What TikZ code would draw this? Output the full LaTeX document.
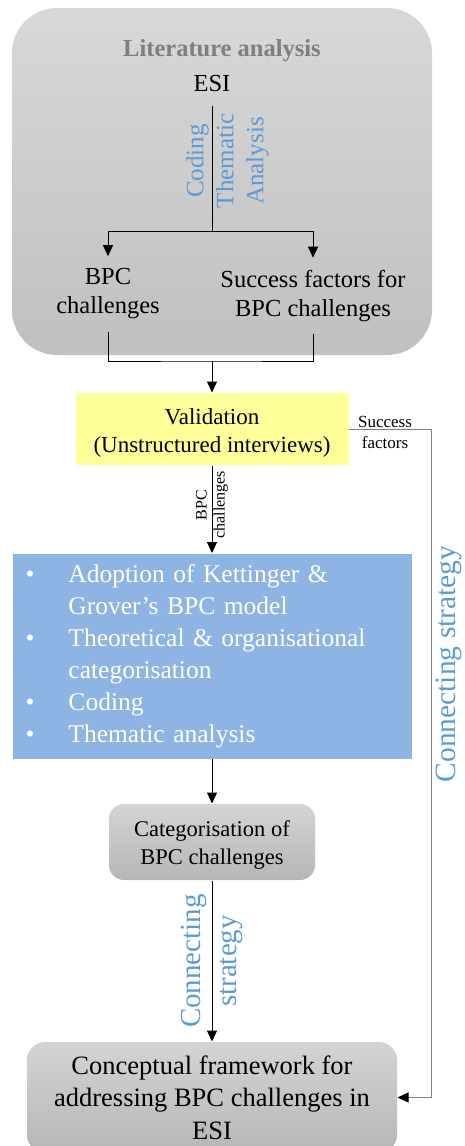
\documentclass[tikz,border=0pt]{standalone}
\usepackage{fontspec}
\setmainfont{Liberation Serif}
\usetikzlibrary{arrows.meta,calc}
\definecolor{litTop}{RGB}{216,216,216}
\definecolor{litBot}{RGB}{192,192,192}
\definecolor{catTop}{RGB}{212,212,212}
\definecolor{catBot}{RGB}{182,182,182}
\definecolor{valYellow}{RGB}{255,255,153}
\definecolor{stepBlue}{RGB}{141,180,226}
\definecolor{codeBlue}{RGB}{91,155,213}
\definecolor{headGray}{RGB}{127,127,127}
\definecolor{railGray}{RGB}{128,128,128}

\begin{document}
\begin{tikzpicture}[x=1pt,y=-1pt,line width=1pt,
	fs/.style 2 args={font=\fontsize{#1}{#2}\selectfont},
	txt/.style={align=center,inner sep=0pt},
	arr/.style={-{Triangle[length=11pt,width=10pt]}},
	railarr/.style={draw=railGray,-{Triangle[length=11pt,width=10pt,color=black]}},
	grey box/.style={rounded corners=#1,top color=catTop,bottom color=catBot,align=center},
	vlabel/.style={rotate=90,align=center,inner sep=0pt,text=codeBlue}]
	\useasboundingbox (0,0) rectangle (465,1146);
	\clip (0,0) rectangle (465,1146);
	% literature analysis
	\node[rounded corners=45pt,minimum width=420pt,minimum height=347pt,top color=litTop,bottom color=litBot] (lit) at (222,181.5) {};
	\node[txt,fs={24.5}{29},text=headGray] (head) at (222,50.5) {\bfseries Literature analysis};
	\node[txt,fs={24.5}{29},inner ysep=13pt] (esi) at (212,84) {ESI};
	\node[txt,fs={24.5}{29},inner ysep=12pt] (bpc) at (108,294) {BPC\\challenges};
	\node[txt,fs={24.5}{29},inner ysep=12pt] (sf) at (313,296) {Success factors for\\BPC challenges};
	\path
	(212,231) coordinate (fork)
	(212,361) coordinate (join)
	(431,429) coordinate (rail);
	\draw (esi) -- (fork);
	\draw[arr] (fork) -| (bpc);
	\draw[arr] (fork) -| (sf);
	\draw (bpc) |- (join) -| (sf);
	\node[vlabel,fs={25}{30}] (codelab) at (227.5,161) {Coding\\Thematic\\Analysis};
	% validation and steps
	\node[fill=valYellow,minimum width=273pt,minimum height=72pt,fs={23}{28}] (valid) at (212,429) {\raisebox{-4pt}[\height][\depth]{\begin{tabular}{@{}c@{}}Validation\\(Unstructured interviews)\end{tabular}}};
	\node[fill=stepBlue,text=white,minimum width=399pt,minimum height=205pt,text width=373pt,inner xsep=13pt,align=left,fs={25.5}{32}] (steps) at (212,656) {\noindent\begin{tabular}{@{}p{43pt}@{}l@{}}
		\textbullet & Adoption of Kettinger \&\\
		& Grover’s BPC model\\
		\textbullet & Theoretical \& organisational\\
		& categorisation\\
		\textbullet & Coding\\
		\textbullet & Thematic analysis
	\end{tabular}};
	\node[grey box=15pt,minimum width=206pt,minimum height=76pt,fs={22.5}{28}] (categ) at (212,842) {\raisebox{-3pt}[\height][\depth]{\begin{tabular}{@{}c@{}}Categorisation of\\BPC challenges\end{tabular}}};
	\node[grey box=18pt,minimum width=370pt,minimum height=111pt,fs={26.5}{32.5}] (frame) at (212,1097.5) {Conceptual framework for\\addressing BPC challenges in\\ESI};
	\draw[arr] (join) -- (valid);
	\foreach \a/\b in {valid/steps,steps/categ,categ/frame} \draw[arr] (\a) -- (\b);
	\node[vlabel,fs={16}{18},text=black] (bpclab) at ($(valid.south)!.45!(steps.north)$) {BPC\\challenges};
	\node[vlabel,fs={29}{36}] (cslab) at ($(categ.south)!.5!(frame.north)$) {Connecting\\strategy};
	% success factors rail
	\draw[railarr] (valid) -- (rail) |- (frame);
	\node[txt,fs={17}{21}] (sflab) at (385,432) {Success\\factors};
	\node[vlabel,fs={29.5}{36}] (raillab) at (449,664) {Connecting strategy};
\end{tikzpicture}
\end{document}
